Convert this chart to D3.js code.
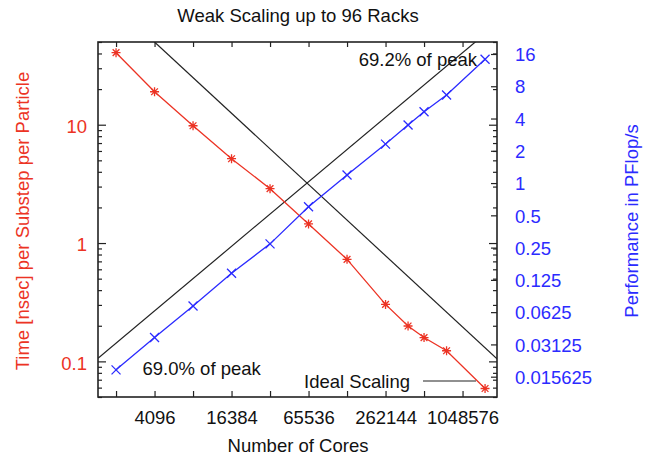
<!DOCTYPE html>
<html>
<head>
<meta charset="utf-8">
<script src="https://cdn.jsdelivr.net/npm/d3@7"></script>
<style>
  html, body { margin: 0; padding: 0; background: #fff; }
  svg { display: block; font-family: "Liberation Sans", Arial, Helvetica, sans-serif; }
</style>
</head>
<body>
<svg id="chart" width="654" height="460"></svg>
<script>
// Core counts of each run (power-of-two partitions plus 24, 32, 48 and 96 racks)
const cores = [2048, 4096, 8192, 16384, 32768, 65536, 131072, 262144, 393216, 524288, 786432, 1572864];
// Time in nanoseconds per substep per particle (left axis)
const timeNs = [40.6, 19.0, 9.8, 5.16, 2.88, 1.45, 0.728, 0.303, 0.199, 0.159, 0.123, 0.059];
// Sustained performance in PFlop/s (right axis)
const perfPF = [0.0181, 0.0362, 0.0714, 0.144, 0.271, 0.602, 1.19, 2.31, 3.48, 4.63, 6.63, 14.3];

// Ideal scaling references
const idealTimeAnchor = [4096, 50];        // [cores, nsec]; time falls as 1/cores
const idealPerfPerCore = 1.568e-5;          // PFlop/s per core; perf grows with cores

// Tick values / labels
const xTicks = [2048, 4096, 8192, 16384, 32768, 65536, 131072, 262144, 524288, 1048576];
const xLabels = [4096, 16384, 65536, 262144, 1048576];
const yMajor = [0.1, 1, 10];
const yMinor = [0.05, 0.06, 0.07, 0.08, 0.09, 0.2, 0.3, 0.4, 0.5, 0.6, 0.7, 0.8, 0.9,
                2, 3, 4, 5, 6, 7, 8, 9, 20, 30, 40, 50];
const y2Ticks = [0.015625, 0.03125, 0.0625, 0.125, 0.25, 0.5, 1, 2, 4, 8, 16];
const y2Labels = ["0.015625", "0.03125", "0.0625", "0.125", "0.25", "0.5", "1", "2", "4", "8", "16"];

const RED = "#ec3324";
const BLUE = "#2b2bff";
const FONT = 18.5;

const svg = d3.select("#chart");
const L = 98, R = 497, T = 42, B = 397;

const x = d3.scaleLog().base(2).domain([1480, 1950000]).range([L, R]);
const yL = d3.scaleLog().domain([0.05, 50]).range([B, T]);
const yR = d3.scaleLog().base(2).domain([0.0101, 20.7]).range([B, T]);

svg.append("defs").append("clipPath").attr("id", "plot")
  .append("rect").attr("x", L).attr("y", T).attr("width", R - L).attr("height", B - T);

function styleAxis(g) {
  g.select(".domain").remove();
  g.selectAll(".tick line").attr("stroke", "#222").attr("stroke-width", 1.2);
  g.selectAll(".tick text").attr("font-size", FONT).attr("fill", "#111").attr("font-family", null);
}

// Bottom and top (mirrored) x ticks
svg.append("g").attr("transform", `translate(0,${B})`)
  .call(d3.axisBottom(x).tickValues(xTicks).tickSizeInner(-6).tickSizeOuter(0).tickPadding(13.4)
    .tickFormat(d => xLabels.includes(d) ? String(d) : ""))
  .call(styleAxis);
svg.append("g").attr("transform", `translate(0,${T})`)
  .call(d3.axisTop(x).tickValues(xTicks).tickSizeInner(-5).tickSizeOuter(0).tickFormat(""))
  .call(styleAxis);

// Left y ticks (majors with labels, minors) and their mirror on the right border
svg.append("g").attr("transform", `translate(${L},0)`)
  .call(d3.axisLeft(yL).tickValues(yMajor).tickSizeInner(-8).tickSizeOuter(0).tickPadding(11)
    .tickFormat(d => String(d)))
  .call(styleAxis)
  .call(g => g.selectAll(".tick text").attr("fill", RED).attr("dy", "0.42em"));
svg.append("g").attr("transform", `translate(${L},0)`)
  .call(d3.axisLeft(yL).tickValues(yMinor).tickSizeInner(-4).tickSizeOuter(0).tickFormat(""))
  .call(styleAxis);
svg.append("g").attr("transform", `translate(${R},0)`)
  .call(d3.axisRight(yL).tickValues(yMajor).tickSizeInner(-8).tickSizeOuter(0).tickFormat(""))
  .call(styleAxis);
svg.append("g").attr("transform", `translate(${R},0)`)
  .call(d3.axisRight(yL).tickValues(yMinor).tickSizeInner(-4).tickSizeOuter(0).tickFormat(""))
  .call(styleAxis);

// Right y2 ticks (powers of two)
svg.append("g").attr("transform", `translate(${R},0)`)
  .call(d3.axisRight(yR).tickValues(y2Ticks).tickSizeInner(-6).tickSizeOuter(0).tickPadding(18)
    .tickFormat((d, i) => y2Labels[i]))
  .call(styleAxis)
  .call(g => g.selectAll(".tick text").attr("fill", BLUE).attr("dy", "0.36em"));

// Plot frame
svg.append("rect").attr("x", L).attr("y", T).attr("width", R - L).attr("height", B - T)
  .attr("fill", "none").attr("stroke", "#222").attr("stroke-width", 1.6);

const plot = svg.append("g").attr("clip-path", "url(#plot)");

// Ideal scaling lines
const [xMin, xMax] = x.domain();
const idealTime = [idealTimeAnchor[0], xMax].map(c => [c, idealTimeAnchor[1] * idealTimeAnchor[0] / c]);
const idealPerf = [xMin, xMax].map(c => [c, idealPerfPerCore * c]);
plot.append("path")
  .attr("d", d3.line().x(d => x(d[0])).y(d => yL(d[1]))(idealTime))
  .attr("fill", "none").attr("stroke", "#222").attr("stroke-width", 1.2);
plot.append("path")
  .attr("d", d3.line().x(d => x(d[0])).y(d => yR(d[1]))(idealPerf))
  .attr("fill", "none").attr("stroke", "#222").attr("stroke-width", 1.2);

// Time series (red, star markers)
const timePts = cores.map((c, i) => [c, timeNs[i]]);
plot.append("path")
  .attr("d", d3.line().x(d => x(d[0])).y(d => yL(d[1]))(timePts))
  .attr("fill", "none").attr("stroke", RED).attr("stroke-width", 1.3);
const star = s => `M${-s},0H${s}M0,${-s}V${s}M${-s*0.75},${-s*0.75}L${s*0.75},${s*0.75}M${-s*0.75},${s*0.75}L${s*0.75},${-s*0.75}`;
plot.selectAll(".tpt").data(timePts).join("path")
  .attr("transform", d => `translate(${x(d[0])},${yL(d[1])})`)
  .attr("d", star(4.5)).attr("stroke", RED).attr("stroke-width", 1.3).attr("fill", "none");

// Performance series (blue, cross markers)
const perfPts = cores.map((c, i) => [c, perfPF[i]]);
plot.append("path")
  .attr("d", d3.line().x(d => x(d[0])).y(d => yR(d[1]))(perfPts))
  .attr("fill", "none").attr("stroke", BLUE).attr("stroke-width", 1.3);
const cross = s => `M${-s},${-s}L${s},${s}M${-s},${s}L${s},${-s}`;
plot.selectAll(".ppt").data(perfPts).join("path")
  .attr("transform", d => `translate(${x(d[0])},${yR(d[1])})`)
  .attr("d", cross(4.5)).attr("stroke", BLUE).attr("stroke-width", 1.3).attr("fill", "none");

// Annotations
svg.append("text").attr("x", 477).attr("y", 65.5).attr("text-anchor", "end")
  .attr("font-size", FONT).attr("fill", "#111").text("69.2% of peak");
svg.append("text").attr("x", 142.5).attr("y", 374.5).attr("text-anchor", "start")
  .attr("font-size", FONT).attr("fill", "#111").text("69.0% of peak");

// Legend
svg.append("text").attr("x", 410).attr("y", 387.5).attr("text-anchor", "end")
  .attr("font-size", FONT).attr("fill", "#111").text("Ideal Scaling");
svg.append("line").attr("x1", 423).attr("x2", 476).attr("y1", 381).attr("y2", 381)
  .attr("stroke", "#222").attr("stroke-width", 1.2);

// Titles
svg.append("text").attr("x", 298).attr("y", 22).attr("text-anchor", "middle")
  .attr("font-size", FONT).attr("fill", "#111").text("Weak Scaling up to 96 Racks");
svg.append("text").attr("x", 298).attr("y", 451.5).attr("text-anchor", "middle")
  .attr("font-size", FONT).attr("fill", "#111").text("Number of Cores");
svg.append("text").attr("transform", "translate(29,221) rotate(-90)").attr("text-anchor", "middle")
  .attr("font-size", FONT).attr("fill", RED).text("Time [nsec] per Substep per Particle");
svg.append("text").attr("transform", "translate(637.5,221) rotate(-90)").attr("text-anchor", "middle")
  .attr("font-size", FONT).attr("fill", BLUE).text("Performance in PFlop/s");
</script>
</body>
</html>
